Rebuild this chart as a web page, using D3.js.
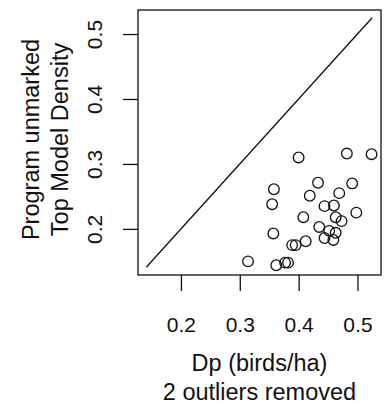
<!DOCTYPE html>
<html>
<head>
  <script src="https://d3js.org/d3.v7.min.js"></script>
  <style>
    body { margin: 0; background: #fff; }
    text { font-family: "Liberation Sans", Arial, sans-serif; fill: #111; }
    .tick text { font-size: 21px; }
    .axisLabel { font-size: 23.5px; }
  </style>
</head>
<body>
  <div id="chart"></div>
  <script>
    // data
    let dp = [0.524, 0.482, 0.400, 0.433, 0.491, 0.358, 0.469, 0.419, 0.355, 0.444,
              0.460, 0.498, 0.463, 0.408, 0.473, 0.435, 0.452, 0.463, 0.357, 0.444,
              0.459, 0.412, 0.389, 0.395, 0.314, 0.362, 0.377, 0.382];
    let topModel = [0.315, 0.316, 0.310, 0.271, 0.270, 0.261, 0.255, 0.251, 0.238, 0.235,
                    0.236, 0.225, 0.218, 0.218, 0.212, 0.203, 0.197, 0.194, 0.193, 0.186,
                    0.183, 0.181, 0.175, 0.175, 0.150, 0.144, 0.148, 0.148];
    let ticks = [0.2, 0.3, 0.4, 0.5];
    let oneToOne = [0.141, 0.525];

    let width = 387, height = 409;
    let margin = {top: 10, left: 138, right: 6, bottom: 134};

    let svg = d3.select("#chart").append("svg")
      .attr("width", width)
      .attr("height", height);

    let xScale = d3.scaleLinear()
      .domain([0.127, 0.540])
      .range([margin.left, width - margin.right]);

    let yScale = d3.scaleLinear()
      .domain([0.129, 0.537])
      .range([height - margin.bottom, margin.top]);

    // axes
    let xAxis = svg.append("g")
      .attr("transform", `translate(0, ${height - margin.bottom})`)
      .call(d3.axisBottom(xScale).tickValues(ticks).tickFormat(d3.format(".1f")).tickSize(16).tickPadding(26));
    xAxis.select(".domain").remove();

    let yAxis = svg.append("g")
      .attr("transform", `translate(${margin.left}, 0)`)
      .call(d3.axisLeft(yScale).tickValues(ticks).tickFormat(d3.format(".1f")).tickSize(15));
    yAxis.select(".domain").remove();
    yAxis.selectAll(".tick text")
      .attr("x", 0).attr("dy", 0)
      .attr("text-anchor", "middle")
      .attr("transform", "translate(-36, 0) rotate(-90)");

    svg.selectAll(".tick line").attr("stroke", "#111").attr("stroke-width", 1.3);

    // box
    svg.append("rect")
      .attr("x", margin.left)
      .attr("y", margin.top)
      .attr("width", width - margin.left - margin.right)
      .attr("height", height - margin.top - margin.bottom)
      .attr("fill", "none")
      .attr("stroke", "#111")
      .attr("stroke-width", 1.3);

    // 1:1 line
    svg.append("line")
      .attr("x1", xScale(oneToOne[0])).attr("y1", yScale(oneToOne[0]))
      .attr("x2", xScale(oneToOne[1])).attr("y2", yScale(oneToOne[1]))
      .attr("stroke", "#111")
      .attr("stroke-width", 1.3);

    // points
    svg.selectAll("circle")
      .data(dp.map(function(d, i) { return {x: d, y: topModel[i]}; }))
      .enter()
      .append("circle")
        .attr("cx", function(d) { return xScale(d.x); })
        .attr("cy", function(d) { return yScale(d.y); })
        .attr("r", 5.3)
        .attr("fill", "none")
        .attr("stroke", "#111")
        .attr("stroke-width", 1.3);

    // axis labels
    let cx = (margin.left + width - margin.right) / 2;
    let cy = (margin.top + height - margin.bottom) / 2;

    svg.append("text").attr("class", "axisLabel")
      .attr("x", cx).attr("y", 371)
      .attr("text-anchor", "middle")
      .text("Dp (birds/ha)");

    svg.append("text").attr("class", "axisLabel")
      .attr("x", cx).attr("y", 400)
      .attr("text-anchor", "middle")
      .text("2 outliers removed");

    svg.append("text").attr("class", "axisLabel")
      .attr("transform", `translate(39, ${cy - 3}) rotate(-90)`)
      .attr("text-anchor", "middle")
      .text("Program unmarked");

    svg.append("text").attr("class", "axisLabel")
      .attr("transform", `translate(68, ${cy - 3}) rotate(-90)`)
      .attr("text-anchor", "middle")
      .text("Top Model Density");
  </script>
</body>
</html>
